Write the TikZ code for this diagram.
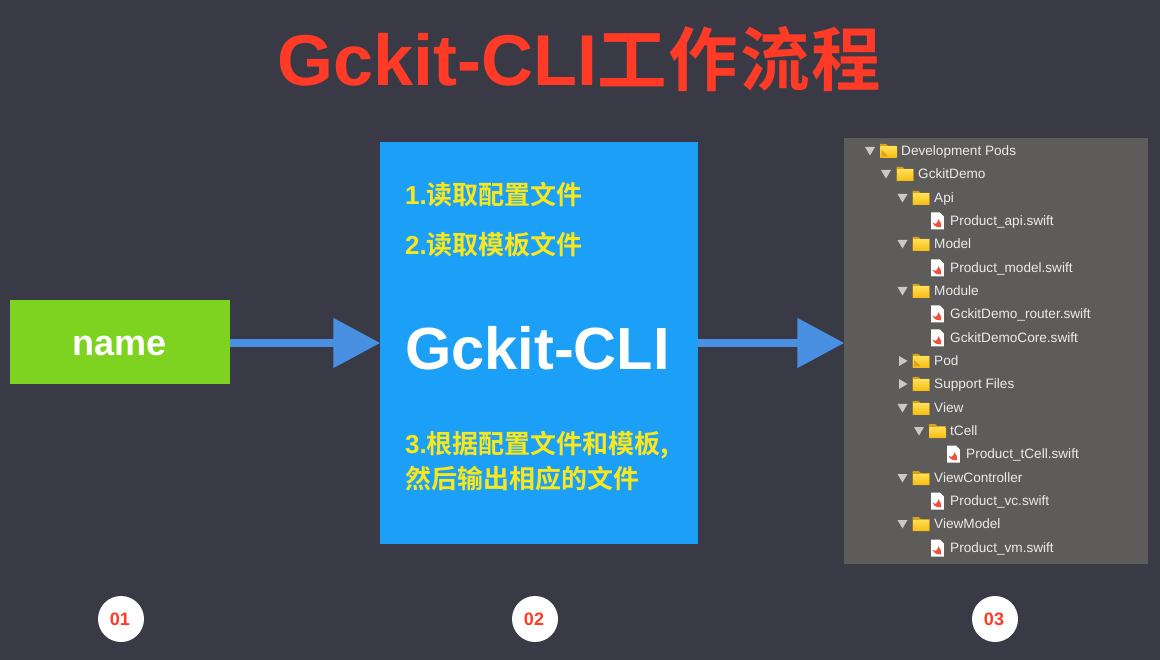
\documentclass[tikz,border=0pt]{standalone}
\usepackage{fontspec}
\setmainfont{Liberation Sans}
\newfontfamily\cjk{Noto Sans CJK SC}[BoldFont={* Bold}]
\newfontfamily\cjkt{Noto Sans CJK SC}[BoldFont={* Bold},LetterSpace=3]
\usetikzlibrary{arrows.meta}
\definecolor{bgc}{HTML}{3A3A46}
\definecolor{titlec}{HTML}{FF3A26}
\definecolor{greenc}{HTML}{7ED321}
\definecolor{bluec}{HTML}{1C9FF6}
\definecolor{arrowc}{HTML}{4A90E2}
\definecolor{yellowc}{HTML}{F8E71C}
\definecolor{panelc}{HTML}{5E5C5A}
\definecolor{foldt}{HTML}{FFDD55}
\definecolor{foldb}{HTML}{F7BE12}
\definecolor{foldd}{HTML}{D9A21E}
\definecolor{tric}{HTML}{C9C9C9}
\definecolor{swiftc}{HTML}{F0503A}
\tikzset{
  flow/.style={draw=arrowc,line width=8pt,-{Triangle[length=47pt,width=48pt]},shorten >=-0.5pt},
  stepl/.style={anchor=west,inner sep=0pt,text=yellowc,font=\fontsize{26}{26}\selectfont\bfseries},
  badge/.style={circle,fill=none,inner sep=0pt,text=titlec,font=\fontsize{18}{18}\selectfont\bfseries},
  disc/.style={circle,fill=white,minimum size=46pt,inner sep=0pt},
  treel/.style={anchor=west,inner sep=0pt,text height=12pt,text depth=3pt,text=white!92!black,font=\fontsize{13.6}{13.6}\selectfont},
  pics/fold/.style={code={
    \fill[foldd] (-8.5,-7) -- (-2.5,-7) -- (-0.5,-5) -- (8.5,-5) -- (8.5,7) -- (-8.5,7) -- cycle;
    \fill[top color=foldt,bottom color=foldb,shading angle=0] (-8,-4) rectangle (8,6.4);
  }},
  pics/sfold/.style={code={
    \pic {fold};
    \fill[foldd] (-7,5.5) -- (-7,-1) -- (0,5.5) -- cycle;
  }},
  pics/swiftf/.style={code={
    \fill[white] (-6.3,-8.5) -- (2.5,-8.5) -- (6.3,-4.5) -- (6.3,8.5) -- (-6.3,8.5) -- cycle;
    \fill[swiftc] (-5,1.5) .. controls (-2,3.5) and (-0.5,3) .. (0.5,-0.5) .. controls (0.5,-1) and (0.5,-1.5) .. (0.5,-2) .. controls (3,0) and (4,3) .. (3.5,6.5) .. controls (0.5,5.5) and (-3,7) .. (-5,1.5) -- cycle;
  }},
  pics/open/.style={code={\fill[tric] (-5,-4) -- (5,-4) -- (0,4.5) -- cycle;}},
  pics/shut/.style={code={\fill[tric] (-4,-5) -- (4.5,0) -- (-4,5) -- cycle;}},
}
\newcommand{\srow}[4]{\pic at (#2-12.5,#3) {swiftf}; \node[treel] (#1) at (#2,#3) {#4};}
\begin{document}
\begin{tikzpicture}[x=1pt,y=-1pt]
\useasboundingbox (0,0) rectangle (1160,660);
\fill[bgc] (0,0) rectangle (1160,660);
\node[inner sep=0pt,anchor=base west,text=titlec,font=\fontsize{72}{72}\selectfont\bfseries] (title) at (277,86) {Gckit-CLI{\cjkt\fontsize{69.5}{72}\selectfont 工作流程}};
\node[fill=greenc,minimum width=220pt,minimum height=84pt,inner sep=0pt] (nm) at (120,342) {};
\node[inner sep=0pt,anchor=base,text=white,font=\fontsize{36}{36}\selectfont\bfseries] (nmt) at (120,356) {name};
\node[fill=bluec,minimum width=318pt,minimum height=402pt,inner sep=0pt] (cli) at (539,343) {};
\node[fill=panelc,minimum width=304pt,minimum height=426pt,inner sep=0pt] (tree) at (996,351) {};
\node[inner sep=0pt,anchor=base west,text=white,font=\fontsize{59.5}{60}\selectfont\bfseries] (clit) at (405,370) {Gckit-CLI};
\node[stepl] (s1) at (405,195) {1.{\cjk 读取配置文件}};
\node[stepl] (s2) at (405,245) {2.{\cjk 读取模板文件}};
\node[stepl] (s3) at (405,445) {3.{\cjk 根据配置文件和模板,}};
\node[stepl] (s4) at (405,479) {{\cjk 然后输出相应的文件}};
\coordinate (mid) at (0,343);
\draw[flow] (nm.east |- mid) -- (cli.west |- mid);
\draw[flow] (cli.east |- mid) -- (tree.west |- mid);
\node[disc] (b1) at (121,619) {};
\node[disc] (b2) at (535,619) {};
\node[disc] (b3) at (995,619) {};
\node[badge] (bt1) at (120,619.5) {01};
\node[badge] (bt2) at (534,619.5) {02};
\node[badge] (bt3) at (994,619.5) {03};
% tree
\pic at (870,151) {open}; \pic at (888.5,151) {sfold}; \node[treel] (t1) at (901,151) {Development Pods};
\pic at (886,174) {open}; \pic at (905,174) {fold}; \node[treel] (t2) at (918,174) {GckitDemo};
\pic at (902.5,198) {open}; \pic at (921,198) {fold}; \node[treel] (t3) at (934,198) {Api};
\srow{t4}{950}{221}{Product\_api.swift}
\pic at (902.5,244) {open}; \pic at (921,244) {fold}; \node[treel] (t5) at (934,244) {Model};
\srow{t6}{950}{268}{Product\_model.swift}
\pic at (902.5,291) {open}; \pic at (921,291) {fold}; \node[treel] (t7) at (934,291) {Module};
\srow{t8}{950}{314}{GckitDemo\_router.swift}
\srow{t9}{950}{338}{GckitDemoCore.swift}
\pic at (903,361) {shut}; \pic at (921,361) {sfold}; \node[treel] (t10) at (934,361) {Pod};
\pic at (903,384) {shut}; \pic at (921,384) {fold}; \node[treel] (t11) at (934,384) {Support Files};
\pic at (902.5,408) {open}; \pic at (921,408) {fold}; \node[treel] (t12) at (934,408) {View};
\pic at (919,431) {open}; \pic at (937.5,431) {fold}; \node[treel] (t13) at (950,431) {tCell};
\srow{t14}{966}{454}{Product\_tCell.swift}
\pic at (902.5,478) {open}; \pic at (921,478) {fold}; \node[treel] (t15) at (934,478) {ViewController};
\srow{t16}{950}{501}{Product\_vc.swift}
\pic at (902.5,524) {open}; \pic at (921,524) {fold}; \node[treel] (t17) at (934,524) {ViewModel};
\srow{t18}{950}{548}{Product\_vm.swift}
\end{tikzpicture}
\end{document}
